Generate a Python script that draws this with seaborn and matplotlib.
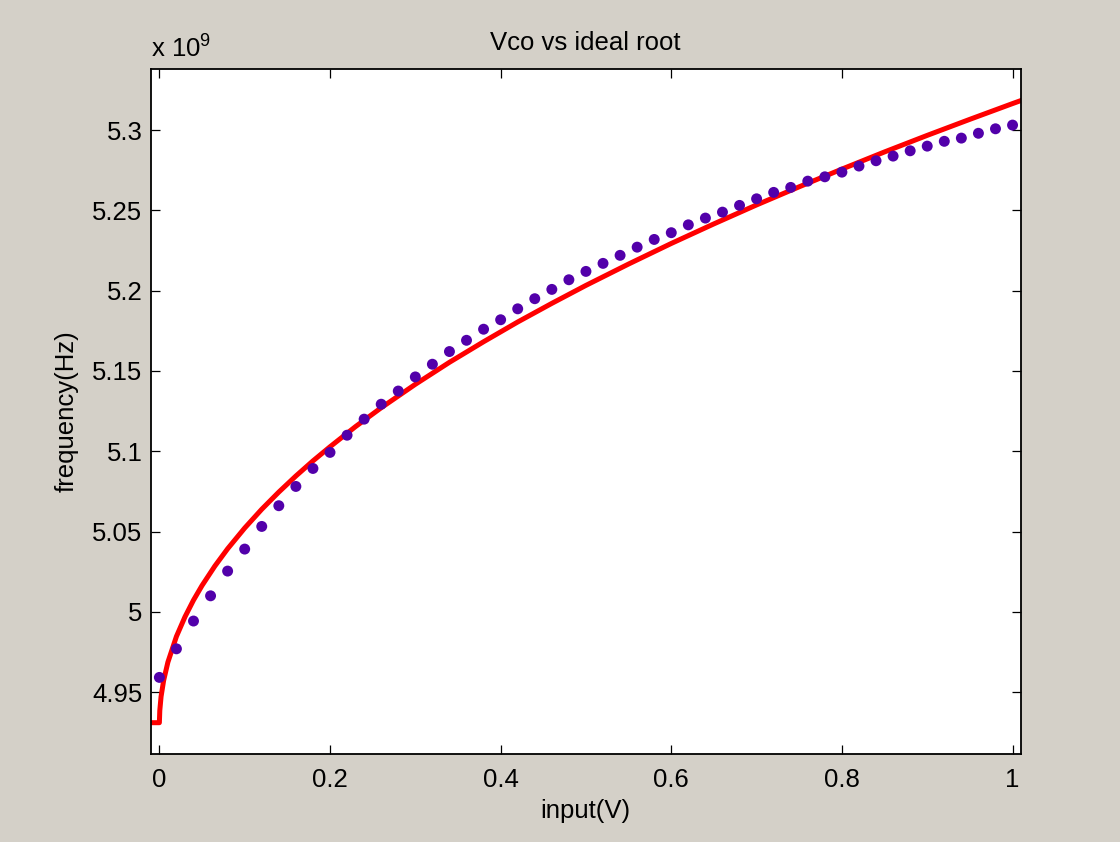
import matplotlib
matplotlib.use("Agg")
import matplotlib.pyplot as plt
import seaborn as sns
import pandas as pd

# ---- data (frequency in units of 1e9 Hz) ----
vco_input = [0.00, 0.02, 0.04, 0.06, 0.08, 0.10, 0.12, 0.14, 0.16, 0.18,
             0.20, 0.22, 0.24, 0.26, 0.28, 0.30, 0.32, 0.34, 0.36, 0.38,
             0.40, 0.42, 0.44, 0.46, 0.48, 0.50, 0.52, 0.54, 0.56, 0.58,
             0.60, 0.62, 0.64, 0.66, 0.68, 0.70, 0.72, 0.74, 0.76, 0.78,
             0.80, 0.82, 0.84, 0.86, 0.88, 0.90, 0.92, 0.94, 0.96, 0.98, 1.00]
vco_freq = [4.9592, 4.9770, 4.9943, 5.0100, 5.0254, 5.0391, 5.0532, 5.0661, 5.0781, 5.0893,
            5.0993, 5.1100, 5.1200, 5.1293, 5.1375, 5.1463, 5.1542, 5.1621, 5.1691, 5.1760,
            5.1819, 5.1887, 5.1950, 5.2008, 5.2068, 5.2120, 5.2170, 5.2220, 5.2271, 5.2319,
            5.2361, 5.2410, 5.2452, 5.2489, 5.2531, 5.2572, 5.2612, 5.2643, 5.2682, 5.2709,
            5.2738, 5.2776, 5.2809, 5.2838, 5.2871, 5.2900, 5.2930, 5.2950, 5.2980, 5.3008, 5.3031]

root_input = [-0.012, 0.0, 0.0005, 0.002, 0.005, 0.01, 0.02, 0.03, 0.04, 0.05,
              0.065, 0.08, 0.10, 0.12, 0.14, 0.16, 0.18, 0.20, 0.23, 0.26,
              0.30, 0.34, 0.38, 0.42, 0.46, 0.50, 0.55, 0.60, 0.65, 0.70,
              0.75, 0.80, 0.85, 0.90, 0.95, 1.00, 1.012]
root_freq = [4.9310, 4.9310, 4.9386, 4.9473, 4.9573, 4.9687, 4.9847, 4.9969, 5.0073, 5.0164,
             5.0285, 5.0393, 5.0522, 5.0639, 5.0746, 5.0846, 5.0940, 5.1028, 5.1154, 5.1271,
             5.1417, 5.1554, 5.1682, 5.1805, 5.1921, 5.2033, 5.2166, 5.2294, 5.2416, 5.2534,
             5.2647, 5.2757, 5.2864, 5.2967, 5.3067, 5.3165, 5.3188]

x_ticks = [0, 0.2, 0.4, 0.6, 0.8, 1.0]
x_tick_labels = ["0", "0.2", "0.4", "0.6", "0.8", "1"]
y_ticks = [4.95, 5.0, 5.05, 5.1, 5.15, 5.2, 5.25, 5.3]
y_tick_labels = ["4.95", "5", "5.05", "5.1", "5.15", "5.2", "5.25", "5.3"]

title = "Vco vs ideal root"
x_label = "input(V)"
y_label = "frequency(Hz)"

# ---- style ----
sns.set_style("ticks")
plt.rcParams["font.family"] = ["Liberation Sans", "DejaVu Sans"]
plt.rcParams["mathtext.fontset"] = "custom"
plt.rcParams["mathtext.rm"] = "Liberation Sans"
plt.rcParams["mathtext.it"] = "Liberation Sans"
plt.rcParams["text.color"] = "black"

FS = 18.5
BG = "#d4d0c8"

fig = plt.figure(figsize=(11.2, 8.42), dpi=100, facecolor=BG)
ax = fig.add_axes([0.1346, 0.1045, 0.9113 - 0.1346, 0.918 - 0.1045])
ax.set_facecolor("white")

df_vco = pd.DataFrame({"x": vco_input, "y": vco_freq})
df_root = pd.DataFrame({"x": root_input, "y": root_freq})

sns.lineplot(data=df_root, x="x", y="y", ax=ax, color="#ff0000", linewidth=3.6,
             sort=False, estimator=None, zorder=2)
sns.scatterplot(data=df_vco, x="x", y="y", ax=ax, color="#5200aa", s=62,
                edgecolor="none", linewidth=0, zorder=3)

ax.set_xlim(-0.0101, 1.0095)
ax.set_ylim(4.9115, 5.338)
ax.set_xticks(x_ticks)
ax.set_xticklabels(x_tick_labels)
ax.set_yticks(y_ticks)
ax.set_yticklabels(y_tick_labels)

for sp in ax.spines.values():
    sp.set_visible(True)
    sp.set_color("black")
    sp.set_linewidth(1.3)

ax.tick_params(axis="both", which="both", direction="in", length=6.3, width=0.9,
               color="black", labelcolor="black", labelsize=FS, top=True, right=True)
ax.tick_params(axis="x", pad=10)
ax.tick_params(axis="y", pad=6)

ax.set_title(title, fontsize=FS, pad=14, color="black")
ax.set_xlabel(x_label, fontsize=FS, labelpad=5, color="black")
ax.set_ylabel(y_label, fontsize=FS, labelpad=10, color="black")

ax.text(0.0, 1.0 + 11 / 685, r"x 10$^{\mathrm{9}}$", transform=ax.transAxes,
        fontsize=FS, ha="left", va="baseline", color="black")

fig.savefig("out.png", dpi=100, facecolor=BG)
